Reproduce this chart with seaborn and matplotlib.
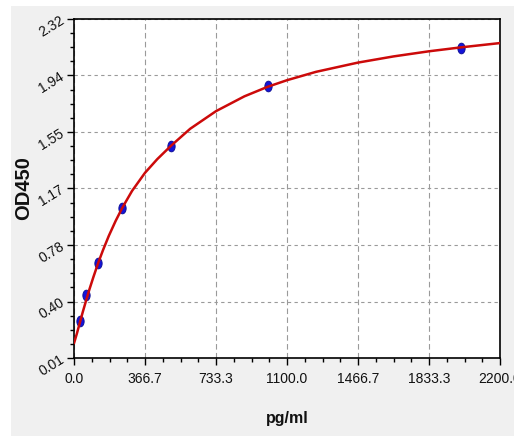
import numpy as np
import pandas as pd
import matplotlib
matplotlib.use("Agg")
import matplotlib.pyplot as plt
import seaborn as sns
from matplotlib.path import Path
from matplotlib.patches import Rectangle
from matplotlib.ticker import AutoMinorLocator

# ---- data ----
conc = [31.25, 62.5, 125, 250, 500, 1000, 2000]
od = [0.261, 0.438, 0.654, 1.034, 1.452, 1.862, 2.124]

# fitted standard curve
curve_x = [0, 15, 31.25, 45, 62.5, 80, 100, 125, 150, 180, 215, 250, 300,
           366.7, 430, 500, 600, 733.3, 880, 1000, 1100, 1250, 1466.7, 1650,
           1833.3, 2000, 2200]
curve_y = [0.11, 0.177, 0.256, 0.322, 0.402, 0.479, 0.561, 0.658, 0.746,
           0.843, 0.944, 1.035, 1.149, 1.272, 1.365, 1.455, 1.572, 1.692,
           1.793, 1.858, 1.903, 1.96, 2.023, 2.065, 2.10, 2.127, 2.156]

x_ticks = [0, 366.67, 733.33, 1100, 1466.67, 1833.33, 2200]
x_labels = ["0.0", "366.7", "733.3", "1100.0", "1466.7", "1833.3", "2200.0"]
y_ticks = [0.01, 0.395, 0.78, 1.165, 1.55, 1.935, 2.32]
y_labels = ["0.01", "0.40", "0.78", "1.17", "1.55", "1.94", "2.32"]

pts = pd.DataFrame({"conc": conc, "od": od})
crv = pd.DataFrame({"x": curve_x, "y": curve_y})

sns.set_theme(style="white")
plt.rcParams["font.family"] = ["Liberation Sans", "DejaVu Sans"]

W, H = 514, 436
fig = plt.figure(figsize=(W / 100, H / 100), dpi=100)
fig.patch.set_facecolor("white")
fig.patches.append(Rectangle((11 / W, 0), 1, 1 - 6 / H, transform=fig.transFigure,
                             facecolor="#f0f0f0", edgecolor="none", zorder=-10))

ax = fig.add_axes([74 / W, (H - 358) / H, 426 / W, 339 / H])
ax.set_facecolor("white")

# ellipse marker (taller than wide)
t = np.linspace(0, 2 * np.pi, 40)
ell = Path(np.column_stack([0.68 * np.cos(t), np.sin(t)]), closed=True)

sns.scatterplot(data=pts, x="conc", y="od", ax=ax, marker=ell, s=60,
                color="#1414d8", edgecolor="#0a0a90", linewidth=0.6, zorder=3)
sns.lineplot(data=crv, x="x", y="y", ax=ax, color="#cc0a0a", linewidth=1.8,
             zorder=4, sort=True)

ax.set_xlim(0, 2200)
ax.set_ylim(0.01, 2.32)
ax.set_xticks(x_ticks)
ax.set_xticklabels(x_labels)
ax.set_yticks(y_ticks)
ax.set_yticklabels(y_labels)
ax.xaxis.set_minor_locator(AutoMinorLocator(4))
ax.yaxis.set_minor_locator(AutoMinorLocator(4))

ax.tick_params(axis="both", which="major", direction="out", length=5, width=1,
               color="black", labelcolor="#111111", labelsize=10,
               bottom=True, left=True)
ax.tick_params(axis="both", which="minor", direction="out", length=3, width=1,
               color="black", bottom=True, left=True)
ax.tick_params(axis="x", which="major", pad=5)
ax.tick_params(axis="y", which="major", pad=3)
for lab in ax.get_yticklabels():
    lab.set_rotation(32)
    lab.set_ha("right")
    lab.set_va("center")
    lab.set_rotation_mode("anchor")

ax.xaxis.grid(True, which="major", color="#9a9a9a", linestyle=(0, (5, 3)), linewidth=0.8)
ax.yaxis.grid(True, which="major", color="#9a9a9a", linestyle=(0, (3, 3)), linewidth=0.8)
ax.set_axisbelow(True)

for sp in ax.spines.values():
    sp.set_visible(True)
    sp.set_color("black")
    sp.set_linewidth(1.2)

ax.set_xlabel("pg/ml", fontsize=11.5, fontweight="bold", color="#111111")
ax.set_ylabel("OD450", fontsize=14.5, fontweight="bold", color="#111111")
ax.xaxis.set_label_coords(0.5, -0.155)
ax.yaxis.set_label_coords(-0.097, 0.5)

fig.savefig("out.png", dpi=100)
